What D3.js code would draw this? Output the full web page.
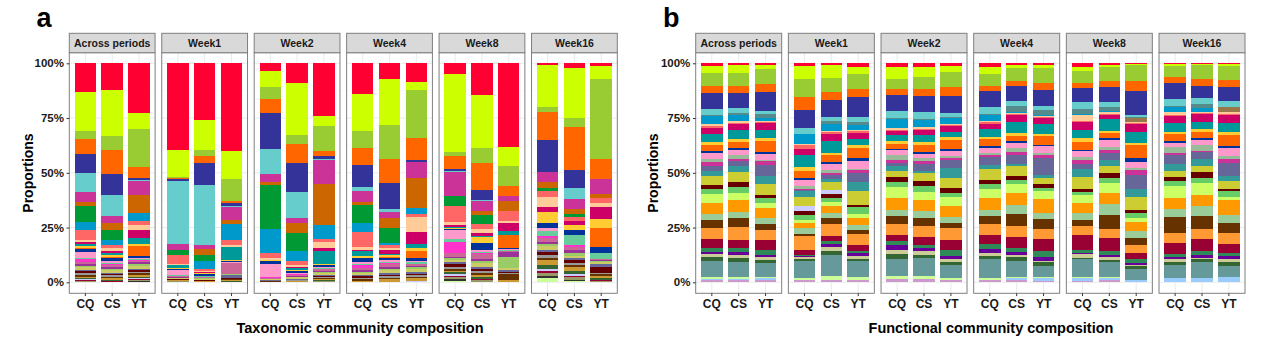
<!DOCTYPE html>
<html>
<head>
<meta charset="utf-8">
<script src="https://cdn.jsdelivr.net/npm/d3@7"></script>
<style>
  body { margin: 0; background: #fff; }
  text { font-family: "Liberation Sans", Arial, sans-serif; }
</style>
</head>
<body>
<svg id="chart" width="1269" height="345"></svg>
<script>
const facets = ["Across periods", "Week1", "Week2", "Week4", "Week8", "Week16"];
const sites = ["CQ", "CS", "YT"];
const yTicks = [0, 0.25, 0.5, 0.75, 1];

// panel a: taxa, listed top of the bar to bottom
const taxColors = ["#FF0033", "#CCFF00", "#99CC33", "#FF6600", "#333399", "#66CCCC", "#CC3399", "#CC6600",
  "#009933", "#0099CC", "#FF6666", "#FFCC99", "#CC0066", "#009999", "#FFCC33", "#FF6600", "#003399",
  "#FF99CC", "#66CC99", "#FF33CC", "#CC6699", "#993399", "#99CC66", "#CCCC66", "#666699", "#660000",
  "#999999", "#663300", "#CC9933", "#336633", "#CCCCFF", "#990033", "#999966", "#333333", "#CCFF99"];

// each facet: [CQ, CS, YT]
const taxAcross = [
  [13.1,17.6,3.9,6.8,8.7,8.8,4.6,1.5,7.6,3.7,4.2,1.2,0.8,0.7,1.2,0.6,1.0,2.7,0.5,1.5,1.0,0.8,0.7,1.2,0.6,0.8,0.7,1.0,0.7,0.5,0.4,0.3,0.3,0.2,0.1],
  [12.2,20.8,6.6,10.9,9.6,9.6,3.1,3.2,4.7,2.1,1.5,1.5,1.0,0.8,0.9,0.5,1.2,0.8,0.6,0.5,1.0,0.8,0.7,1.0,0.6,0.5,0.8,0.6,0.7,0.4,0.3,0.2,0.2,0.1,0],
  [22.7,7.1,17.7,4.9,0.9,0.5,6.4,8.2,0,3.6,2.0,2.3,3.3,3.0,1.0,4.3,0.8,0.5,0.6,0.3,0.8,0.7,0.9,1.2,0.8,0.6,0.7,0.8,0.9,0.5,0.4,0.5,0.6,0.4,0.1]
];
const taxWeek1 = [
  [40.2,12.2,0.5,0.4,1.2,29.1,2.6,0,2.4,0,4.1,0.6,0,1.5,0.3,0,0.2,2.6,0.2,0.3,0.4,0.3,0.2,0.3,0.3,0.1,0.2,0.1,0.1,0.1,0.3,0,0.1,0,0.3],
  [26.2,13.4,2.7,3.5,9.9,27.4,2.0,2.6,3.0,3.5,0.8,0.8,0.2,0.3,0.3,0.2,0.5,0.3,0.2,0.2,0.3,0.3,0.2,0.4,0.2,0.2,0.2,0.2,0.2,0.1,0.1,0,0,0,0],
  [40.2,12.6,10.2,0.8,1.2,0.5,6.1,1.8,0,7.2,2.3,0.9,0,5.9,0.8,0,0.3,0.3,0.3,0,4.6,0.2,0.3,0.2,1.5,0.2,0.3,0.4,0.4,0.5,0,0,0,0,0]
];
const taxWeek2 = [
  [3.7,7.2,5.5,6.7,16.3,11.6,3.5,1.5,20.5,11.0,2.3,1.0,0,0,0.3,0,1.5,5.8,0.2,0.2,0.5,0.2,0.1,0.2,0.3,0.1,0.2,0.3,0.1,0.1,0,0,0,0,0],
  [8.8,24.0,4.0,8.8,13.2,11.9,2.1,4.9,7.8,4.7,2.0,0.9,0.5,0.8,0.3,0.2,0.7,0.4,0.3,0.2,0.5,0.5,0.3,0.6,0.4,0.2,0.4,0.2,0.2,0.1,0.1,0,0,0,0],
  [23.9,4.7,11.3,2.3,1.5,0.5,11.0,18.6,0,6.5,1.5,2.6,1.2,5.9,0.5,0.3,0.6,0.5,0.4,0.2,0.7,0.6,0.5,0.7,0.8,0.3,0.6,0.4,0.5,0.3,0,0,0.4,0.2,0]
];
const taxWeek4 = [
  [14.0,17.0,7.6,7.9,9.9,2.0,4.9,1.5,8.1,4.1,7.0,1.1,0.5,2.6,0.5,0.4,1.5,1.2,0.5,1.3,0.8,1.0,0.4,0.8,0.6,0.9,0.5,0.6,0.5,0.3,0,0,0,0,0],
  [7.3,20.7,15.7,11.0,11.7,1.5,2.9,4.4,7.0,0.9,1.5,0.9,1.8,0.5,0.8,0.3,1.2,0.6,0.4,0.6,1.2,0.9,0.6,1.5,0.8,0.6,0.9,0.5,1.1,0.3,0,0,0,0,0],
  [8.7,3.3,22.1,10.0,0.9,0,7.3,14.0,0,2.7,1.1,6.8,5.8,1.8,1.2,3.3,1.5,0.4,0.6,0.3,0.6,0.5,1.0,1.2,1.0,0.5,0.9,0.7,1.0,0.4,0.2,0.2,0,0,0]
];
const taxWeek8 = [
  [4.9,35.6,2.0,5.8,1.1,0.3,10.8,0,4.6,0,7.2,1.5,0.8,0.7,0.5,0,0.5,3.8,1.5,5.0,1.8,0.6,0.6,1.2,0.8,1.2,1.0,1.0,0.6,1.0,0.5,0.8,1.0,0.8,0.5],
  [14.3,24.4,6.8,12.6,4.6,0.5,4.6,1.7,4.1,0,2.3,2.0,1.0,0.6,3.0,0,3.0,0.8,0.6,0.5,2.0,1.0,1.0,1.8,1.0,1.0,0.8,1.0,0.8,0.8,0.4,0.4,0.6,0.3,0],
  [38.4,8.4,9.1,4.6,0,0,2.6,4.3,0,0,4.9,0.5,3.8,1.8,0,6.2,0.5,0.3,0.3,0,0.5,2.3,5.2,0.6,1.2,0.3,0.6,2.6,0.8,0.3,0,0,0,0,0]
];
const taxWeek16 = [
  [0.9,19.2,2.3,12.8,14.9,0,4.6,3.0,1.0,0,3.0,4.6,2.3,0,5.0,0,2.3,1.5,2.3,1.0,1.5,1.2,1.0,1.5,1.0,1.5,1.2,1.0,2.3,2.0,1.0,1.0,1.0,1.0,2.1],
  [2.1,22.8,4.1,19.9,7.9,5.3,4.6,2.3,1.0,0,2.0,0,1.8,0,2.3,0,2.3,0,4.6,0.8,1.5,1.5,1.0,1.2,1.0,1.0,1.0,1.2,1.5,1.5,0.8,0.8,1.0,0.7,0.5],
  [1.2,5.9,36.8,8.8,0,0,6.8,1.8,0,0,2.6,1.7,5.3,0,4.4,8.8,2.3,0,3.0,0,0.5,0.5,0.5,0.6,1.5,2.6,0.8,0.6,1.2,0.6,0.3,0.3,0.6,0,0]
];

// panel b: functional groups, listed top of the bar to bottom
const funcColors = ["#FF0033", "#CCFF00", "#99CC33", "#FF6600", "#333399", "#66CCCC", "#558B8B", "#99774A",
  "#0099CC", "#FFCC99", "#FF6666", "#CC0066", "#009999", "#FFCC33", "#FF6600", "#003399", "#FF99CC",
  "#99BB99", "#CC3399", "#666699", "#339999", "#CCCC33", "#CCCCFF", "#660000", "#66CC66", "#CCFF66",
  "#FF9900", "#99CC99", "#663300", "#FF9933", "#990033", "#2E8B57", "#660099", "#CCCC99", "#336633",
  "#669999", "#CCFF99", "#99CCFF", "#CC99CC"];

const funcAcross = [
  [1.1,3.5,5.6,3.3,7.3,2.6,0.8,0,3.5,0.8,1.0,2.7,3.8,1.1,3.0,0.8,2.7,1.5,1.5,2.3,2.3,4.3,0,1.8,2.3,4.1,4.7,2.9,3.8,5.0,3.8,1.8,1.2,1.5,1.8,7.3,0.8,0.2,1.2],
  [0.9,3.7,5.6,3.3,6.8,2.4,0.6,0,3.0,0.9,0.5,2.7,4.1,1.1,3.0,0.9,2.1,2.0,1.0,2.0,2.6,4.6,0,2.4,2.6,3.5,5.2,3.0,4.0,5.6,3.8,1.8,1.2,1.5,1.8,7.0,0.6,0.5,1.2],
  [0.6,2.0,6.8,3.8,8.4,1.8,1.5,0,1.5,0.5,0.5,3.0,3.8,1.2,5.2,0.9,2.6,0.8,1.5,5.3,3.5,5.2,0,1.2,2.3,2.3,4.6,2.6,2.7,4.6,4.6,2.3,1.1,1.2,1.5,6.5,0.3,0.8,1.2]
];
const funcWeek1 = [
  [1.1,6.1,8.1,6.1,8.2,2.7,0,0,4.9,0.3,2.0,2.6,5.8,1.8,3.0,0.9,3.0,1.0,0.8,0.5,2.7,4.1,2.0,2.1,2.3,1.5,2.0,3.0,0.8,6.5,2.1,0.6,0.3,1.2,1.0,7.6,0.8,0,1.2],
  [0.6,6.1,6.5,3.5,7.6,2.1,1.2,0,3.3,0.5,0.8,3.3,5.3,1.1,3.0,0.8,2.6,1.5,0.8,1.8,1.5,3.5,2.0,1.8,1.8,2.0,3.0,2.3,2.6,5.8,2.0,1.5,1.5,1.8,1.5,9.9,1.5,0,1.2],
  [1.8,3.0,6.8,3.8,9.4,2.3,1.2,0,2.3,0.5,0.8,3.0,2.6,1.2,4.6,1.8,3.5,0.5,1.5,3.8,4.3,6.4,0,1.1,3.0,1.7,3.3,2.3,2.0,4.9,2.7,1.2,1.4,1.1,1.2,7.3,1.1,0,1.2]
];
const funcWeek2 = [
  [1.8,5.3,4.6,2.6,7.3,3.3,0.5,0,4.1,0.8,0.5,2.1,2.7,1.2,2.1,0.8,2.3,2.0,1.5,1.5,2.3,2.3,0,2.3,2.3,5.3,5.3,3.0,3.3,5.3,2.4,2.1,2.4,1.8,2.3,7.6,1.1,0,1.7],
  [1.5,4.9,5.3,3.3,7.3,3.0,0.5,0,3.3,0.6,0.5,2.3,3.3,1.2,3.3,0.8,1.8,1.5,1.2,3.3,0.8,3.5,0,2.6,2.6,3.5,5.3,3.0,3.8,5.0,3.3,1.5,1.5,1.5,1.5,8.4,1.1,0,1.6],
  [1.1,3.0,6.8,3.8,8.1,1.5,0.5,0,2.7,0.5,0.5,2.6,2.7,1.2,4.1,0.8,2.3,0.8,1.2,3.6,4.3,4.9,0,2.0,2.0,4.1,5.0,2.6,2.3,5.3,5.0,2.6,1.5,1.1,1.5,5.8,0.8,0,1.2]
];
const funcWeek4 = [
  [1.5,3.3,5.3,2.3,7.3,3.0,0.5,0,3.0,0.5,0.5,2.6,3.5,1.1,3.0,0.8,2.3,1.1,0.8,3.5,2.0,4.6,0,1.8,2.3,4.3,5.2,3.0,3.5,5.0,4.1,2.3,1.5,1.5,1.5,8.4,0.8,0,1.2],
  [0.6,1.5,5.8,2.7,6.7,2.4,2.6,0,0.5,0.5,0.5,3.0,5.3,1.1,2.4,0.8,2.6,1.5,1.5,4.3,0.6,4.6,0,2.0,2.0,4.1,5.3,4.3,5.2,5.0,5.3,1.5,1.5,1.2,1.8,7.3,0.4,0.7,1.2],
  [0.8,1.2,7.1,3.3,7.0,2.1,2.0,0,0.5,0.5,0.5,3.0,4.3,1.1,3.8,0.8,3.0,1.1,1.2,7.6,1.8,2.4,0,1.8,1.5,3.8,6.1,3.0,4.6,4.6,5.3,3.0,1.5,0.8,1.5,5.3,0.3,1.5,0.5]
];
const funcWeek8 = [
  [1.5,1.8,5.8,2.1,6.5,3.0,2.3,0,0.5,2.6,0.5,3.8,3.3,2.0,3.5,0.8,2.6,1.5,1.5,2.3,3.8,5.3,0,1.5,1.5,3.5,4.6,2.9,2.7,4.1,7.0,1.1,0.8,1.5,0.8,8.1,0.3,1.2,0.8],
  [0.6,0.9,6.4,3.0,6.8,2.3,1.8,0,0.5,0.8,0.5,1.8,5.5,1.1,2.3,0.8,3.0,1.5,1.5,3.0,3.0,3.0,0,2.6,2.0,4.6,5.0,4.9,6.4,4.3,5.8,1.8,1.2,1.1,1.1,7.0,0.3,0.8,1.2],
  [0.3,0.3,7.6,4.6,10.6,1.1,0.5,1.5,0.3,0.5,0.3,3.9,4.9,0.8,6.1,1.5,3.0,0.8,2.3,6.1,3.8,6.1,0,1.2,2.3,2.0,4.1,3.0,3.0,3.8,3.0,1.5,0.8,0.8,1.2,4.9,0,1.2,0]
];
const funcWeek16 = [
  [0.3,0.8,5.3,2.7,7.2,3.0,0.5,0,2.6,1.1,0.5,3.0,4.1,1.2,3.0,0.8,2.0,2.6,1.1,4.0,3.3,2.7,0,1.8,2.3,5.3,5.3,3.5,7.2,4.6,5.0,1.5,1.1,1.1,1.2,6.1,0,2.0,0],
  [0.3,0.5,6.5,3.0,5.3,3.0,1.5,0,1.8,0.8,0.5,3.3,3.5,1.1,3.0,0.8,2.1,2.7,0.8,3.0,3.0,3.0,0,2.6,2.4,5.2,5.0,4.6,6.1,4.6,5.3,1.8,1.2,0.8,1.1,7.3,0,2.0,0],
  [0.5,0.6,6.8,3.0,6.5,2.6,0,2.4,0.3,0.5,0.5,3.8,4.3,1.1,5.3,0.8,3.8,1.5,1.5,6.1,2.6,3.5,0,1.1,2.4,1.8,6.8,3.5,4.9,4.9,4.0,1.5,1.5,1.1,2.3,4.9,0,2.4,0]
];

const svg = d3.select("#chart");

const stripTop = 33.3, panelTop = 52.7, panelBottom = 293.3;
const y = d3.scaleLinear().domain([0, 1]).range([282.3, 63.3]);
const minorTicks = [0.125, 0.375, 0.625, 0.875];
const borderCol = "#7f7f7f";

const panels = [
  { letter: "a", title: "Taxonomic community composition", colors: taxColors,
    values: [taxAcross, taxWeek1, taxWeek2, taxWeek4, taxWeek8, taxWeek16],
    left: 69.3, right: 617.3, letterX: 36.5, ylabX: 28.3, titleX: 360 },
  { letter: "b", title: "Functional community composition", colors: funcColors,
    values: [funcAcross, funcWeek1, funcWeek2, funcWeek4, funcWeek8, funcWeek16],
    left: 695.7, right: 1245, letterX: 663, ylabX: 653.3, titleX: 991 }
];

panels.forEach(p => {
  const g = svg.append("g");

  const fx = d3.scaleBand().domain(facets).range([p.left, p.right]).paddingInner(0.072);
  const bw = fx.bandwidth();
  const x = d3.scaleBand().domain(sites).range([0, bw]).paddingInner(0.2).paddingOuter(0.2);

  const stack = d3.stack()
    .keys(d3.range(p.colors.length))
    .value((d, k) => d.values[k])
    .order(d3.stackOrderReverse)
    .offset(d3.stackOffsetExpand);

  facets.forEach((f, fi) => {
    const fg = g.append("g").attr("transform", `translate(${fx(f)},0)`);

    fg.append("rect")
      .attr("x", 0).attr("y", panelTop)
      .attr("width", bw).attr("height", panelBottom - panelTop)
      .attr("fill", "#fff");

    // grid
    fg.append("g").selectAll("line").data(minorTicks).join("line")
      .attr("x1", 0).attr("x2", bw)
      .attr("y1", d => y(d)).attr("y2", d => y(d))
      .attr("stroke", "#f2f2f2").attr("stroke-width", 0.5);
    fg.append("g").selectAll("line").data(yTicks).join("line")
      .attr("x1", 0).attr("x2", bw)
      .attr("y1", d => y(d)).attr("y2", d => y(d))
      .attr("stroke", "#ebebeb").attr("stroke-width", 1);
    fg.append("g").selectAll("line").data(sites).join("line")
      .attr("x1", d => x(d) + x.bandwidth() / 2).attr("x2", d => x(d) + x.bandwidth() / 2)
      .attr("y1", panelTop).attr("y2", panelBottom)
      .attr("stroke", "#ebebeb").attr("stroke-width", 1);

    // stacked bars
    const rows = sites.map((s, si) => ({ site: s, values: p.values[fi][si] }));
    fg.append("g")
      .attr("shape-rendering", "crispEdges")
      .selectAll("g")
      .data(stack(rows))
      .join("g")
      .attr("fill", d => p.colors[d.key])
      .selectAll("rect")
      .data(d => d)
      .join("rect")
      .attr("x", d => x(d.data.site))
      .attr("width", x.bandwidth())
      .attr("y", d => y(d[1]))
      .attr("height", d => y(d[0]) - y(d[1]));

    fg.append("rect")
      .attr("x", 0).attr("y", panelTop)
      .attr("width", bw).attr("height", panelBottom - panelTop)
      .attr("fill", "none").attr("stroke", borderCol).attr("stroke-width", 1);

    // strip
    fg.append("rect")
      .attr("x", 0).attr("y", stripTop)
      .attr("width", bw).attr("height", panelTop - stripTop)
      .attr("fill", "#d9d9d9").attr("stroke", borderCol).attr("stroke-width", 1);
    fg.append("text")
      .attr("x", bw / 2).attr("y", 46.6)
      .attr("text-anchor", "middle")
      .style("font-size", "10.5px").style("font-weight", "bold").style("fill", "#1a1a1a")
      .text(f);

    // x axis
    const xa = fg.append("g")
      .attr("transform", `translate(0,${panelBottom})`)
      .call(d3.axisBottom(x).tickSize(2.75).tickPadding(3));
    xa.select(".domain").remove();
    xa.selectAll("line").attr("stroke", "#333");
    xa.selectAll("text")
      .attr("font-family", null)
      .style("font-size", "12px").style("font-weight", "bold").style("fill", "#1a1a1a");
  });

  // y axis
  const ya = g.append("g")
    .attr("transform", `translate(${p.left},0)`)
    .call(d3.axisLeft(y).tickValues(yTicks).tickFormat(d3.format(".0%")).tickSize(2.75).tickPadding(2.6));
  ya.select(".domain").remove();
  ya.selectAll("line").attr("stroke", "#333");
  ya.selectAll("text")
    .attr("font-family", null)
    .style("font-size", "11.5px").style("font-weight", "bold").style("fill", "#1a1a1a");

  g.append("text")
    .attr("transform", `translate(${p.ylabX},173) rotate(-90)`)
    .attr("text-anchor", "middle").attr("dy", "0.35em")
    .style("font-size", "14px").style("font-weight", "bold").style("fill", "#000")
    .text("Proportions");

  g.append("text")
    .attr("x", p.titleX).attr("y", 333)
    .attr("text-anchor", "middle")
    .style("font-size", "14.5px").style("font-weight", "bold").style("fill", "#000")
    .text(p.title);

  g.append("text")
    .attr("x", p.letterX).attr("y", 26.7)
    .style("font-size", "27px").style("font-weight", "bold").style("fill", "#000")
    .text(p.letter);
});
</script>
</body>
</html>
